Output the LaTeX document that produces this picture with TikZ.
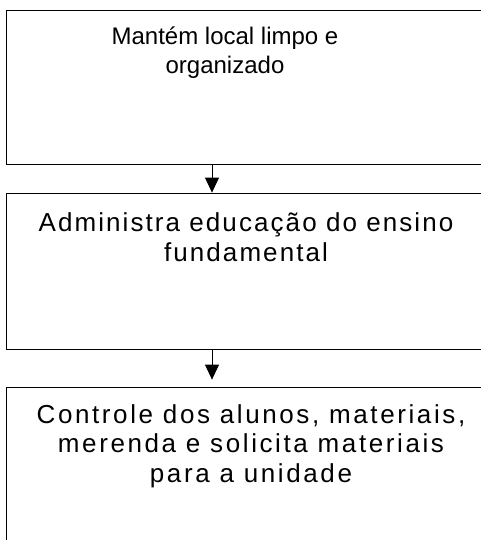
\documentclass[tikz,border=0pt]{standalone}
\usepackage{fontspec}
\setmainfont{Liberation Sans}
\newfontfamily\wideA[LetterSpace=8]{Liberation Sans}
\newfontfamily\wideB[LetterSpace=10]{Liberation Sans}
\usetikzlibrary{arrows.meta}
\tikzset{
  box/.style={draw=black, line width=0.8pt, minimum width=484pt, inner sep=0pt},
  label1/.style={anchor=base, align=center, inner sep=0pt},
  flow/.style={draw=black, line width=0.8pt, -{Triangle[width=14pt,length=15pt]}}
}
\begin{document}
\begin{tikzpicture}[x=1pt,y=-1pt]
\useasboundingbox (0,0) rectangle (480,540);
\node[box, minimum height=154pt] (b1) at (248,87) {};
\node[box, minimum height=156pt] (b2) at (248,271) {};
\node[box, minimum height=173pt] (b3) at (248,473.5) {};
\coordinate (ax) at (212,0);
\node[label1, font=\fontsize{24}{29}\selectfont] (t1) at (225,74) {Mantém local limpo e\\organizado};
\node[label1, font=\wideA\fontsize{26}{30}\selectfont] (t2) at (246,261) {Administra educação do ensino\\fundamental};
\node[label1, font=\wideB\fontsize{26}{29.5}\selectfont] (t3) at (251,482) {Controle dos alunos, materiais,\\merenda e solicita materiais\\para a unidade};
\draw[flow] (b1.south -| ax) -- (b2.north -| ax);
\draw[flow, shorten >=7pt] (b2.south -| ax) -- (b3.north -| ax);
\end{tikzpicture}
\end{document}
